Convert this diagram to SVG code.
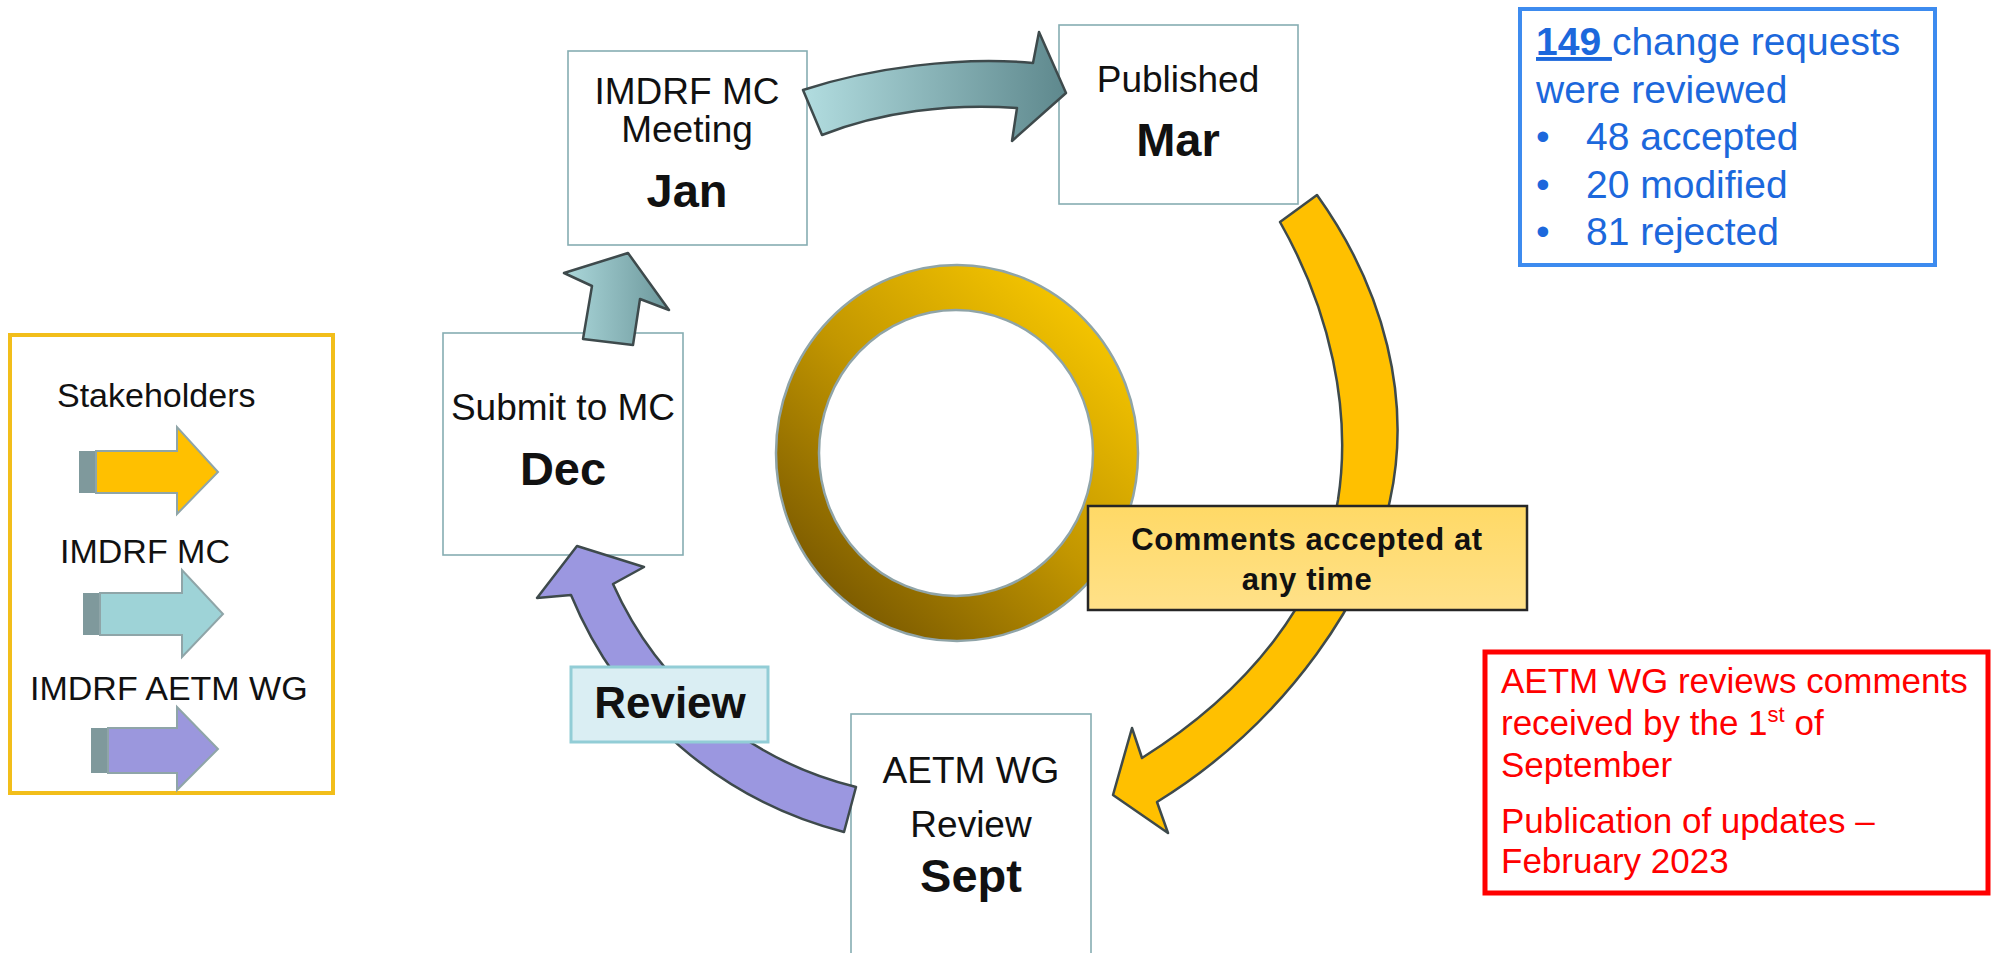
<svg xmlns="http://www.w3.org/2000/svg" width="1992" height="953" viewBox="0 0 1992 953">
<defs>
<style>
.box{fill:#ffffff;stroke:#86adb2;stroke-width:1.6}
.t{font-family:"Liberation Sans",Arial,sans-serif;fill:#111111}
.reg{font-size:37px}
.bold{font-size:47px;font-weight:bold}
.leg{font-size:34px}
.blue{font-family:"Liberation Sans",Arial,sans-serif;font-size:39px;fill:#1c68dc}
.red{font-family:"Liberation Sans",Arial,sans-serif;font-size:35px;fill:#ff0000}
.conn{stroke:#3e4a4c;stroke-width:2.5;stroke-linejoin:round}
.legtail{fill:#7f999c}
.leghead{stroke:#8fa5a8;stroke-width:2}
</style>
<linearGradient id="ringGrad" x1="0.85" y1="0.1" x2="0.15" y2="0.9">
<stop offset="0" stop-color="#f6c600"/>
<stop offset="0.5" stop-color="#c29600"/>
<stop offset="1" stop-color="#7a5900"/>
</linearGradient>
<linearGradient id="tealGrad" x1="0" y1="0" x2="1" y2="0">
<stop offset="0" stop-color="#b2dde0"/>
<stop offset="1" stop-color="#5e888d"/>
</linearGradient>
<linearGradient id="tealGrad2" x1="0" y1="0" x2="1" y2="0">
<stop offset="0" stop-color="#acd8db"/>
<stop offset="1" stop-color="#6c979b"/>
</linearGradient>
<linearGradient id="commGrad" x1="0" y1="0" x2="0" y2="1">
<stop offset="0" stop-color="#ffd966"/>
<stop offset="1" stop-color="#ffe189"/>
</linearGradient>
</defs>
<rect x="0" y="0" width="1992" height="953" fill="#ffffff"/>

<g id="ring">
<path d="M776,453 A181,188 0 1,0 1138,453 A181,188 0 1,0 776,453 Z M819,453 A137,143 0 1,1 1093,453 A137,143 0 1,1 819,453 Z" fill="url(#ringGrad)" fill-rule="evenodd" stroke="#8fa4a8" stroke-width="2.5"/>
</g>

<g id="node-jan">
<rect class="box" x="568" y="51" width="239" height="194"/>
<text class="t reg" x="687" y="104" text-anchor="middle">IMDRF MC</text>
<text class="t reg" x="687" y="142" text-anchor="middle">Meeting</text>
<text class="t bold" x="687" y="207" text-anchor="middle">Jan</text>
</g>

<g id="node-mar">
<rect class="box" x="1059" y="25" width="239" height="179"/>
<text class="t reg" x="1178" y="92" text-anchor="middle">Published</text>
<text class="t bold" x="1178" y="156" text-anchor="middle">Mar</text>
</g>

<g id="node-dec">
<rect class="box" x="443" y="333" width="240" height="222"/>
<text class="t reg" x="563" y="420" text-anchor="middle">Submit to MC</text>
<text class="t bold" x="563" y="485" text-anchor="middle">Dec</text>
</g>

<g id="node-sept">
<rect class="box" x="851" y="714" width="240" height="250"/>
<text class="t reg" x="971" y="783" text-anchor="middle">AETM WG</text>
<text class="t reg" x="971" y="837" text-anchor="middle">Review</text>
<text class="t bold" x="971" y="892" text-anchor="middle">Sept</text>
</g>

<g id="connectors">
<path id="arc-mar-sept" class="conn" fill="#ffc000" stroke="#3d3d3d" d="M1317,195 C1385,290 1412,400 1390,500 C1372,590 1290,720 1157,802 L1168,833 L1113,795 L1132,728 L1142,758 C1250,690 1320,600 1338,500 C1352,410 1330,310 1280,222 Z"/>
<path id="arrow-jan-mar" class="conn" fill="url(#tealGrad)" d="M803,90 C870,68 960,56 1033,63 L1039,32 L1066,93 L1012,141 L1017,108 C950,103 880,112 822,135 Z"/>
<path id="arrow-dec-jan" class="conn" fill="url(#tealGrad2)" d="M628,253 L669,310 L640,299 L633,345 L583,339 L592,286 L564,273 Z"/>
<path id="arrow-sept-dec" class="conn" fill="#9b97e0" stroke="#4a5458" d="M856,787 L844,832 A403,403 0 0,1 571,595 L537,598 L577,546 L644,567 L613,584 A360,360 0 0,0 856,787 Z"/>
</g>

<g id="comments">
<rect x="1088" y="506" width="439" height="104" fill="url(#commGrad)" stroke="#262626" stroke-width="2.5"/>
<text class="t" x="1307" y="550" font-size="31" font-weight="bold" text-anchor="middle" letter-spacing="0.6">Comments accepted at</text>
<text class="t" x="1307" y="590" font-size="31" font-weight="bold" text-anchor="middle" letter-spacing="0.6">any time</text>
</g>

<g id="label-review">
<rect x="571" y="667" width="197" height="75" fill="#daeef3" stroke="#92cdd6" stroke-width="3"/>
<text class="t" x="670" y="718" font-size="44" font-weight="bold" text-anchor="middle">Review</text>
</g>

<g id="legend">
<rect x="10" y="335" width="323" height="458" fill="#ffffff" stroke="#f2be1a" stroke-width="4"/>
<text class="t leg" x="57" y="407">Stakeholders</text>
<rect class="legtail" x="79" y="451" width="18" height="42"/>
<polygon class="leghead" points="96,451 177,451 177,427 218,472 177,514 177,493 96,493" fill="#ffc000"/>
<text class="t leg" x="60" y="563">IMDRF MC</text>
<rect class="legtail" x="83" y="593" width="18" height="42"/>
<polygon class="leghead" points="100,593 182,593 182,570 223,614 182,657 182,635 100,635" fill="#9ed3d7"/>
<text class="t leg" x="30" y="700">IMDRF AETM WG</text>
<rect class="legtail" x="91" y="728" width="18" height="45"/>
<polygon class="leghead" points="108,728 177,728 177,707 218,749 177,790 177,773 108,773" fill="#9b97dd"/>
</g>

<g id="stats">
<rect x="1520" y="9" width="415" height="256" fill="#ffffff" stroke="#3d8bef" stroke-width="4"/>
<text class="blue" x="1536" y="55"><tspan font-weight="bold" text-decoration="underline">149 </tspan>change requests</text>
<text class="blue" x="1536" y="103">were reviewed</text>
<text class="blue" x="1536" y="150">•</text>
<text class="blue" x="1586" y="150">48 accepted</text>
<text class="blue" x="1536" y="198">•</text>
<text class="blue" x="1586" y="198">20 modified</text>
<text class="blue" x="1536" y="245">•</text>
<text class="blue" x="1586" y="245">81 rejected</text>
</g>

<g id="note">
<rect x="1485" y="652" width="503" height="241" fill="#ffffff" stroke="#ff0000" stroke-width="5"/>
<text class="red" x="1501" y="693">AETM WG reviews comments</text>
<text class="red" x="1501" y="735">received by the 1<tspan font-size="22" dy="-13">st</tspan><tspan dy="13"> of</tspan></text>
<text class="red" x="1501" y="777">September</text>
<text class="red" x="1501" y="833">Publication of updates –</text>
<text class="red" x="1501" y="873">February 2023</text>
</g>
</svg>
